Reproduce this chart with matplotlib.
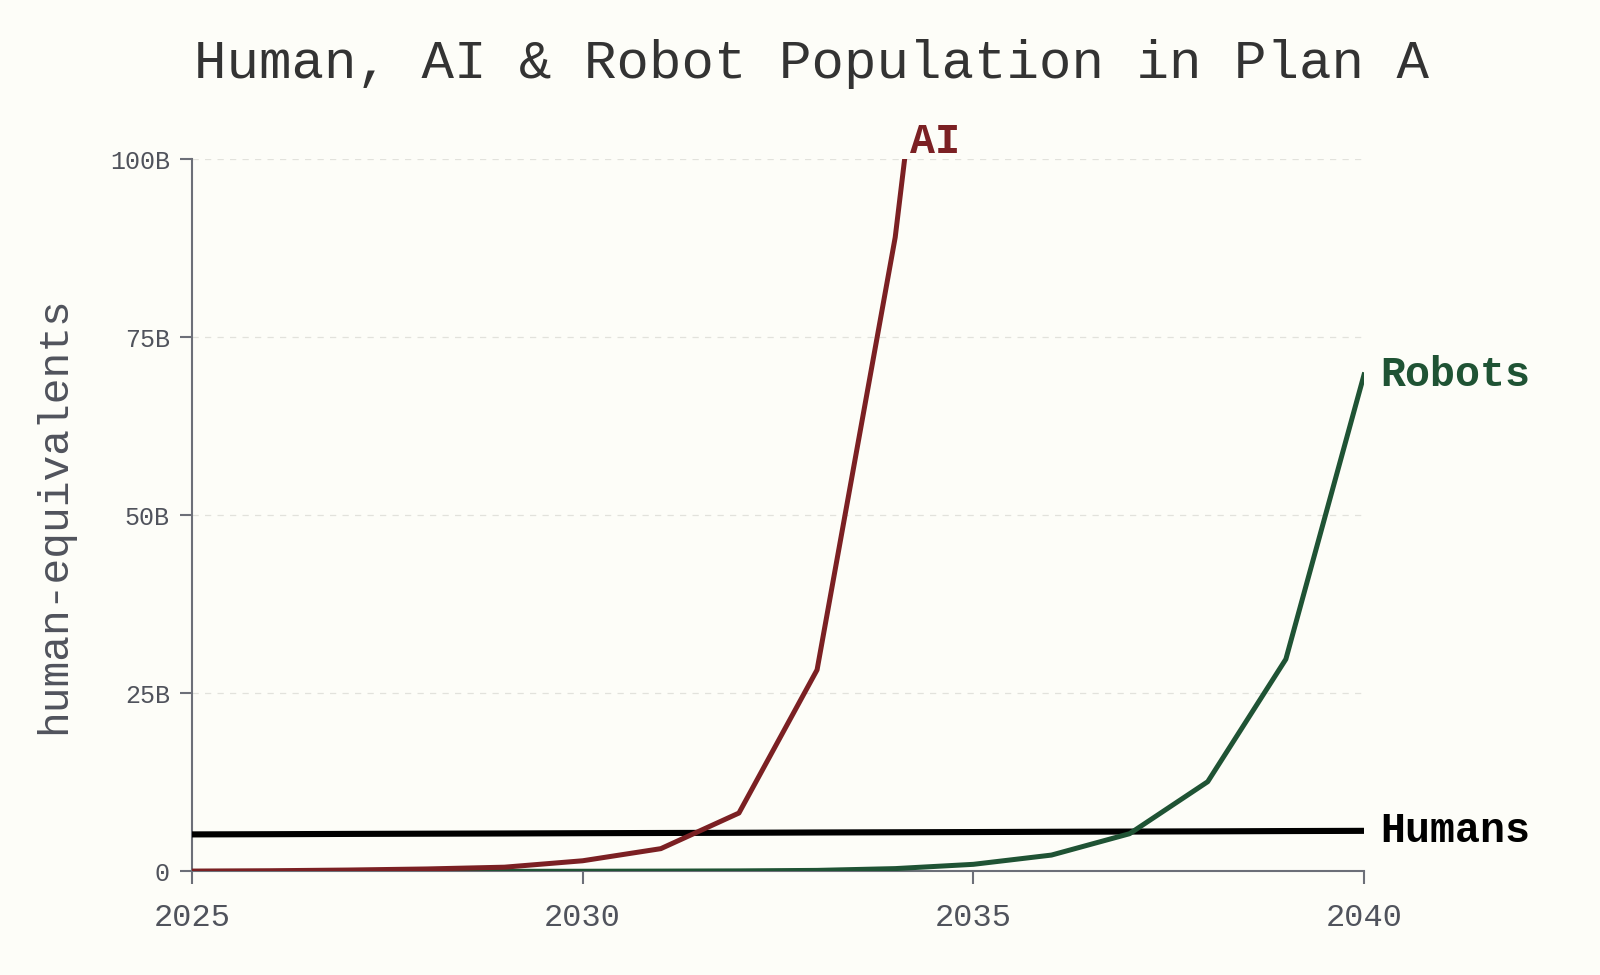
#!/usr/bin/env python3
"""
Human, AI & Robot population in Plan A (human-equivalents, billions).
"""

import matplotlib
matplotlib.use('Agg')
import matplotlib.pyplot as plt

# ============================================================================
# DATA (billions of human-equivalents)
# ============================================================================

years = [2025, 2026, 2027, 2028, 2029, 2030, 2031, 2032, 2033, 2034, 2035,
         2036, 2037, 2038, 2039, 2040]
ai = [0.05, 0.1, 0.2, 0.35, 0.6, 1.5, 3.2, 8.2, 28.3, 89.0, 180.0,
      360.0, 700.0, 1400.0, 2800.0, 5600.0]
robots = [0.0, 0.0, 0.01, 0.01, 0.02, 0.03, 0.05, 0.08, 0.15, 0.4, 1.0,
          2.3, 5.3, 12.6, 29.8, 69.7]
humans = [5.20, 5.23, 5.27, 5.30, 5.33, 5.37, 5.40, 5.43, 5.47, 5.50, 5.53,
          5.57, 5.60, 5.63, 5.67, 5.70]

y_ticks = [0, 25, 50, 75, 100]
y_tick_labels = ['0', '25B', '50B', '75B', '100B']
x_ticks = [2025, 2030, 2035, 2040]

TITLE = 'Human, AI & Robot Population in Plan A'
YLABEL = 'human-equivalents'

# ============================================================================
# STYLE
# ============================================================================

BG = '#fdfdf8'
AXIS_GRAY = '#6c6f78'
TEXT_GRAY = '#50535c'
AI_COLOR = '#7b2023'
ROBOT_COLOR = '#1f5334'
HUMAN_COLOR = '#000000'
MONO = ['Liberation Mono', 'DejaVu Sans Mono']

plt.rcParams['font.family'] = MONO

fig = plt.figure(figsize=(16, 9.75), dpi=100, facecolor=BG)
ax = fig.add_axes([0.12, 0.1062, 0.7325, 0.7307], facecolor=BG)

# Lines
ax.plot(years, humans, color=HUMAN_COLOR, linewidth=4.4, solid_capstyle='butt', zorder=3)
ax.plot(years, robots, color=ROBOT_COLOR, linewidth=3.6, zorder=4)
ax.plot(years, ai, color=AI_COLOR, linewidth=3.6, zorder=5)

ax.set_xlim(2025, 2040)
ax.set_ylim(0, 100)

# Grid (dashed, skip zero line)
for v in y_ticks[1:]:
    ax.axhline(v, color='#e2e2dc', linewidth=0.9, linestyle=(0, (5, 5)), zorder=1)

# Spines and ticks
for side in ['top', 'right']:
    ax.spines[side].set_visible(False)
for side in ['left', 'bottom']:
    ax.spines[side].set_color(AXIS_GRAY)
    ax.spines[side].set_linewidth(1.5)

ax.set_yticks(y_ticks)
ax.set_yticklabels(y_tick_labels)
ax.set_xticks(x_ticks)
ax.set_xticklabels([str(x) for x in x_ticks])
ax.tick_params(axis='y', direction='out', length=9, width=1.5, color=AXIS_GRAY,
               labelcolor=TEXT_GRAY, labelsize=18, pad=7)
ax.tick_params(axis='x', direction='out', length=9, width=1.5, color=AXIS_GRAY,
               labelcolor=TEXT_GRAY, labelsize=23, pad=14)

ax.set_ylabel(YLABEL, fontsize=31, color=TEXT_GRAY, labelpad=26)

fig.text(0.507, 0.934, TITLE, ha='center', va='center', fontsize=39, color='#333333')

# End labels
label_kw = dict(textcoords='offset points', ha='left', va='center',
                fontsize=30, fontweight='bold', annotation_clip=False)
ax.annotate('AI', xy=(2034.12, 100), xytext=(4, 12), color=AI_COLOR, **label_kw)
ax.annotate('Robots', xy=(years[-1], robots[-1]), xytext=(12, 0), color=ROBOT_COLOR, **label_kw)
ax.annotate('Humans', xy=(years[-1], humans[-1]), xytext=(12, 0), color=HUMAN_COLOR, **label_kw)

fig.savefig('out.png', dpi=100, facecolor=BG)
